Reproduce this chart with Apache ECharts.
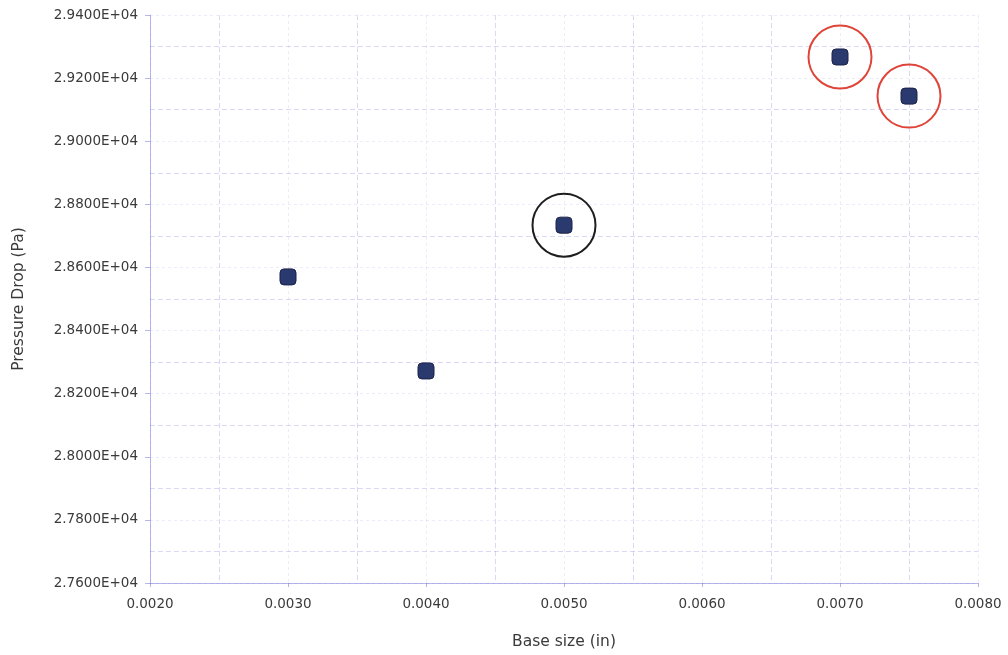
<!DOCTYPE html>
<html>
<head>
<meta charset="utf-8">
<title>Pressure Drop vs Base size</title>
<script src="https://cdn.jsdelivr.net/npm/echarts@6/dist/echarts.min.js"></script>
<style>
  html, body { margin: 0; padding: 0; background: #ffffff; }
  #chart { width: 1008px; height: 655px; }
</style>
</head>
<body>
<div id="chart"></div>
<script>
// Base size of the mesh (in) and resulting pressure drop (Pa)
const baseSize = [0.0030, 0.0040, 0.0050, 0.0070, 0.0075];
const pressureDrop = [28570, 28272, 28734, 29267, 29143];

// Points singled out with a ring: chosen case in black, coarse cases in red
const blackRing = [0.0050];
const redRing = [0.0070, 0.0075];

// Axis ranges and tick steps
const xMin = 0.0020, xMax = 0.0080, xStep = 0.0010;
const yMin = 27600, yMax = 29400, yStep = 200;

function sciLabel(v) {
  const e = v === 0 ? 0 : Math.floor(Math.log10(Math.abs(v)));
  const m = v / Math.pow(10, e);
  const sign = e < 0 ? '-' : '+';
  const ea = String(Math.abs(e)).padStart(2, '0');
  return m.toFixed(4) + 'E' + sign + ea;
}

const points = baseSize.map((x, i) => [x, pressureDrop[i]]);
const pick = list => points.filter(p => list.some(x => Math.abs(x - p[0]) < 1e-9));

const gridMajor = { show: true, lineStyle: { color: 'rgba(110,110,220,0.13)', width: 1, type: [3, 3] } };
const gridMinor = { show: true, lineStyle: { color: 'rgba(110,110,220,0.26)', width: 1, type: [5, 3] } };
const fontFam = 'DejaVu Sans, Liberation Sans, Arial, sans-serif';
const labelFont = { fontFamily: fontFam, fontSize: 13.5, color: '#3a3a3a' };
const axisColor = 'rgba(110,110,220,0.5)';

const chart = echarts.init(document.getElementById('chart'));
chart.setOption({
  backgroundColor: '#ffffff',
  animation: false,
  grid: { left: 150, right: 30, top: 15, bottom: 72, containLabel: false, outerBoundsMode: 'none' },
  xAxis: {
    type: 'value',
    min: xMin, max: xMax, interval: xStep,
    name: 'Base size (in)',
    nameLocation: 'middle',
    nameGap: 51,
    nameTextStyle: { fontFamily: fontFam, fontSize: 15.5, color: '#3a3a3a' },
    axisLine: { show: true, lineStyle: { color: axisColor, width: 1 } },
    axisTick: { show: true, length: 4, lineStyle: { color: axisColor } },
    minorTick: { show: false, splitNumber: 2 },
    splitLine: gridMajor,
    minorSplitLine: gridMinor,
    axisLabel: Object.assign({ margin: 14, formatter: v => v.toFixed(4) }, labelFont)
  },
  yAxis: {
    type: 'value',
    min: yMin, max: yMax, interval: yStep,
    name: 'Pressure Drop (Pa)',
    nameLocation: 'middle',
    nameGap: 123,
    nameTextStyle: { fontFamily: fontFam, fontSize: 15.5, color: '#3a3a3a' },
    axisLine: { show: true, lineStyle: { color: axisColor, width: 1 } },
    axisTick: { show: true, length: 5, lineStyle: { color: axisColor } },
    minorTick: { show: false, splitNumber: 2 },
    splitLine: gridMajor,
    minorSplitLine: gridMinor,
    axisLabel: Object.assign({ margin: 12, formatter: v => sciLabel(v) }, labelFont)
  },
  series: [
    {
      type: 'scatter',
      data: points,
      symbol: 'roundRect',
      symbolSize: 16,
      itemStyle: { color: '#2b3a6e', borderColor: '#1b2348', borderWidth: 1, opacity: 1 },
      z: 3
    },
    {
      type: 'scatter',
      data: pick(blackRing),
      symbol: 'circle',
      symbolSize: 63,
      itemStyle: { color: 'rgba(0,0,0,0)', borderColor: '#1e1e1e', borderWidth: 2, opacity: 1 },
      silent: true,
      z: 4
    },
    {
      type: 'scatter',
      data: pick(redRing),
      symbol: 'circle',
      symbolSize: 63,
      itemStyle: { color: 'rgba(0,0,0,0)', borderColor: '#df4438', borderWidth: 2, opacity: 1 },
      silent: true,
      z: 4
    }
  ]
});
</script>
</body>
</html>
